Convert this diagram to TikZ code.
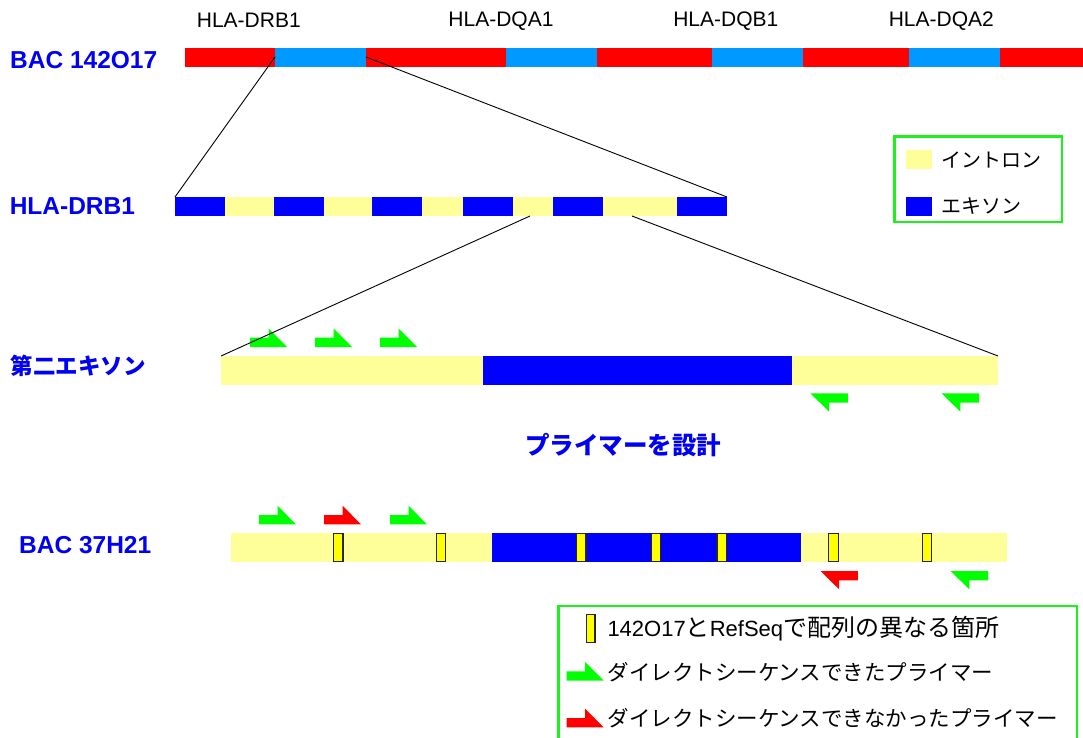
\documentclass[tikz,border=0pt]{standalone}
\usepackage{fontspec}
\setmainfont{Liberation Sans}
\newfontfamily\jp{Noto Sans CJK JP}
\definecolor{bacred}{RGB}{255,0,0}
\definecolor{genecyan}{RGB}{0,153,255}
\definecolor{exonblue}{RGB}{0,0,255}
\definecolor{intronyel}{RGB}{255,255,153}
\definecolor{markyel}{RGB}{255,255,0}
\definecolor{primgreen}{RGB}{0,255,0}
\definecolor{primred}{RGB}{255,0,0}
\definecolor{boxgreen}{RGB}{30,240,30}
\definecolor{labelblue}{RGB}{0,0,245}
\tikzset{
  rowlab/.style={anchor=west,inner sep=0pt,text=labelblue,font=\fontsize{24.5}{28}\selectfont\bfseries},
  genelab/.style={inner sep=0pt,text=black,font=\fontsize{21}{25}\selectfont},
  legtext/.style={anchor=west,inner sep=0pt,text=black,font=\fontsize{20}{24}\selectfont\jp},
  legtextb/.style={anchor=west,inner sep=0pt,text=black,font=\fontsize{21.5}{25}\selectfont},
  legbox/.style={draw=boxgreen,line width=2.5pt},
  zoomline/.style={draw=black,line width=0.9pt},
  marker/.style={fill=markyel,draw=black!85,line width=1.1pt},
  fwdprimer/.pic={\fill (0,0) -- (37,0) -- (18.5,-18.6) -- (18.5,-9.3) -- (0,-9.3) -- cycle;},
  revprimer/.pic={\fill (0,0) -- (-37.4,0) -- (-18.7,18.4) -- (-18.7,9.4) -- (0,9.4) -- cycle;}
}
\begin{document}
\begin{tikzpicture}[x=1pt,y=-1pt]
\useasboundingbox (0,0) rectangle (1083,738);
\clip (0,0) rectangle (1083,738);
\fill[white] (0,0) rectangle (1083,738);

% ---- gene names
\node[genelab] (gDRB1) at (248.8,20.7) {HLA-DRB1};
\node[genelab] (gDQA1) at (501,20.7) {HLA-DQA1};
\node[genelab] (gDQB1) at (725.8,20.7) {HLA-DQB1};
\node[genelab] (gDQA2) at (941.3,20.7) {HLA-DQA2};

% ---- row labels
\node[rowlab] (lab1) at (10,60) {BAC 142O17};
\node[rowlab] (lab2) at (9.6,206) {HLA-DRB1};
\node[rowlab,font=\fontsize{22.5}{26}\selectfont\jp\bfseries] (lab3) at (10.3,366) {第二エキソン};
\node[rowlab] (lab4) at (19,545.5) {BAC 37H21};
\node[inner sep=0pt,text=labelblue,font=\fontsize{24.5}{28}\selectfont\jp\bfseries] (design) at (623.3,445.5) {プライマーを設計};

% ---- BAC 142O17 bar
\foreach \a/\b/\c in {185/275/bacred,275/366/genecyan,366/506/bacred,506/597/genecyan,597/712/bacred,712/803/genecyan,803/909/bacred,909/1000/genecyan,1000/1083/bacred}
  \fill[\c] (\a,48) rectangle (\b,67);

% ---- HLA-DRB1 bar
\foreach \a/\b/\c in {175/225/exonblue,225/274/intronyel,274/324/exonblue,324/372/intronyel,372/422/exonblue,422/463/intronyel,463/513/exonblue,513/553/intronyel,553/603/exonblue,603/677/intronyel,677/727/exonblue}
  \fill[\c] (\a,197) rectangle (\b,216);

% ---- second exon bar
\fill[intronyel] (221,356) rectangle (483,385);
\fill[exonblue] (483,356) rectangle (792,385);
\fill[intronyel] (792,356) rectangle (998,385);

% ---- BAC 37H21 bar
\fill[intronyel] (231,532.7) rectangle (492,561.7);
\fill[exonblue] (492,532.7) rectangle (800.7,561.7);
\fill[intronyel] (800.7,532.7) rectangle (1007,561.7);
\foreach \m in {333.7,436.6,576.7,651.5,717,828.8,922.3}
  \draw[marker] (\m,533.5) rectangle ++(9.3,27.8);

% ---- primers, second exon
\foreach \p in {250,315,380}
  \pic[fill=primgreen] at (\p,347) {fwdprimer};
\pic[fill=primgreen] at (847.8,393.3) {revprimer};
\pic[fill=primgreen] at (979,393.3) {revprimer};

% ---- primers, BAC 37H21
\pic[fill=primgreen] at (259,524.3) {fwdprimer};
\pic[fill=primred] at (324,524.3) {fwdprimer};
\pic[fill=primgreen] at (390,524.3) {fwdprimer};
\pic[fill=primred] at (857.9,571) {revprimer};
\pic[fill=primgreen] at (988,571) {revprimer};

% ---- zoom lines
\coordinate (z1a) at (275,57);
\coordinate (z1b) at (175,197);
\coordinate (z2a) at (366,57);
\coordinate (z2b) at (727,197);
\coordinate (z3a) at (530,216);
\coordinate (z3b) at (221,356);
\coordinate (z4a) at (632,216);
\coordinate (z4b) at (998,356);
\draw[zoomline] (z1a) -- (z1b);
\draw[zoomline] (z2a) -- (z2b);
\draw[zoomline] (z3a) -- (z3b);
\draw[zoomline] (z4a) -- (z4b);

% ---- legend 1
\draw[legbox] (894.5,136.3) rectangle (1062.1,222.1);
\fill[intronyel] (906,150) rectangle (931.7,169);
\fill[exonblue] (906,196.7) rectangle (931.7,215.7);
\node[legtext] (lintron) at (941.7,159.5) {イントロン};
\node[legtext] (lexon) at (941.7,206) {エキソン};

% ---- legend 2
\draw[legbox] (558.3,606) rectangle (1077.2,760);
\draw[marker] (586.3,614.5) rectangle (595,642.3);
\node[legtextb,font=\fontsize{22}{25}\selectfont] (lmark) at (607.3,628.5) {142O17{\fontsize{24}{26}\selectfont\jp と}RefSeq{\fontsize{24}{26}\selectfont\jp で配列の異なる箇所}};
\pic[fill=primgreen] at (566.7,680.7) {fwdprimer};
\node[legtextb,font=\fontsize{21.5}{25}\selectfont\jp] (lok) at (607.3,672) {ダイレクトシーケンスできたプライマー};
\pic[fill=primred] at (566.7,727.3) {fwdprimer};
\node[legtextb,font=\fontsize{21.5}{25}\selectfont\jp] (lng) at (607.3,718.5) {ダイレクトシーケンスできなかったプライマー};
\end{tikzpicture}
\end{document}
